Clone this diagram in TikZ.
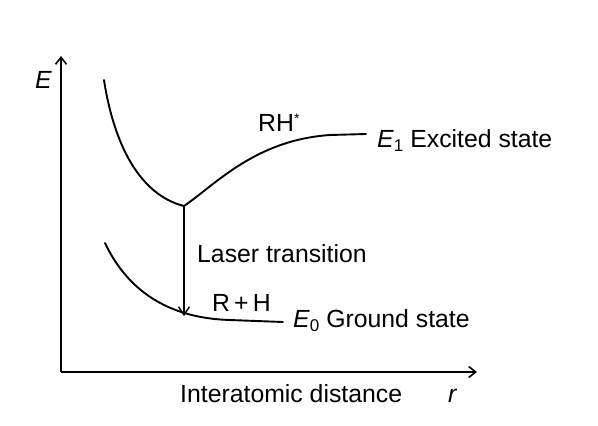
\documentclass[tikz,border=0pt]{standalone}
\usepackage{fontspec}
\setmainfont{Liberation Sans}
\usetikzlibrary{arrows.meta}
\tikzset{
  curve/.style={line width=1.9pt, line cap=round},
  axis/.style={line width=1.9pt, -{Straight Barb[length=7pt,width=11pt,line width=1.6pt]}},
  lbl/.style={inner sep=0pt, anchor=base west, font=\fontsize{24.8}{28}\selectfont},
}
\newcommand{\sbs}[1]{\raisebox{-0.35ex}{\fontsize{17}{17}\selectfont #1}}
\begin{document}
\begin{tikzpicture}[x=1pt,y=-1pt]
\useasboundingbox (0,0) rectangle (598,426);
% axes
\coordinate (o) at (61,372);
\coordinate (ytop) at (61,56);
\coordinate (xend) at (477,372);
\draw[axis] (o) -- (ytop);
\draw[axis] (o) -- (xend);
% excited curve
\coordinate (ex0) at (104,80);
\coordinate (exmin) at (184,206);
\coordinate (exflat) at (330,135);
\coordinate (exend) at (366,134);
\draw[curve] (ex0) .. controls (114,145) and (140,195) .. (exmin)
  .. controls (215,185) and (255,140) .. (exflat) -- (exend);
% ground curve
\coordinate (g0) at (105,243);
\coordinate (gmid) at (230,320);
\coordinate (gend) at (283,322);
\coordinate (gtip) at (184,316);
\draw[curve] (g0) .. controls (124,283) and (160,318) .. (gmid) -- (gend);
% transition arrow
\draw[line width=1.5pt, -{Straight Barb[length=8pt,width=11pt,line width=1.4pt]}] (exmin) -- (gtip);
% labels
\node[lbl] (lE) at (35,88) {\textit{E}};
\node[lbl] (lRH) at (258,131) {RH\raisebox{0.6ex}{\fontsize{14}{14}\selectfont *}};
\node[lbl] (lE1) at (377,147) {\textit{E}\sbs{1} Excited state};
\node[lbl] (lLT) at (197,262) {Laser transition};
\node[lbl] (lRpH) at (212,311) {R\,+\,H};
\node[lbl] (lE0) at (293,327) {\textit{E}\sbs{0} Ground state};
\node[lbl] (lID) at (180,402) {Interatomic distance};
\node[lbl] (lr) at (448,402) {\textit{r}};
\end{tikzpicture}
\end{document}
